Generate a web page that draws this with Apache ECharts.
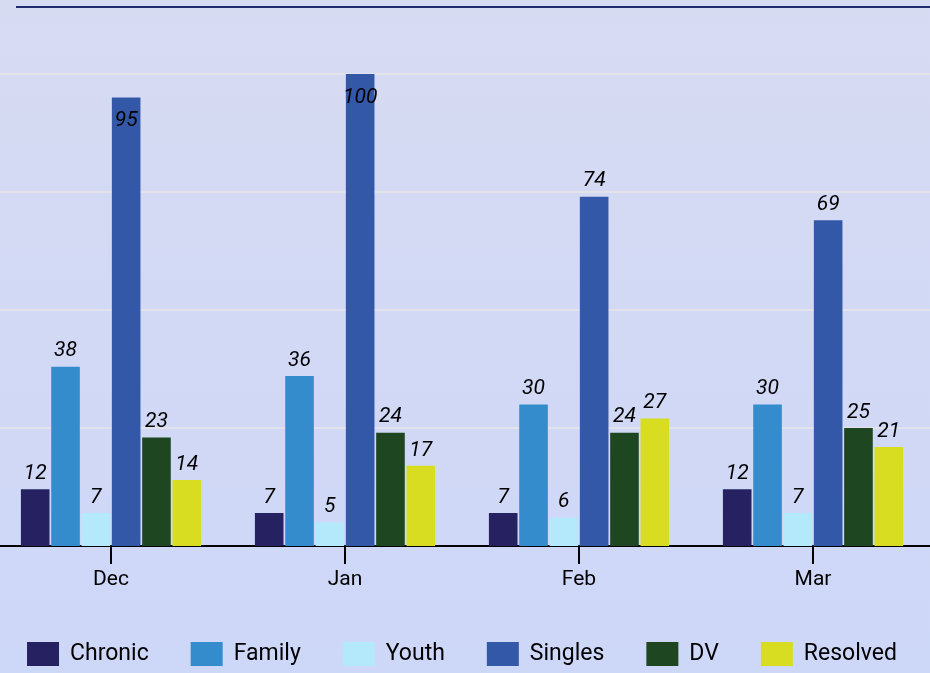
<!DOCTYPE html>
<html>
<head>
<meta charset="utf-8">
<script src="https://cdn.jsdelivr.net/npm/echarts@6/dist/echarts.min.js"></script>
<style>
  html, body { margin: 0; padding: 0; overflow: hidden; }
  /* chart is a bit wider than the window so the first category sits like the original */
  #main { width: 936px; height: 673px; margin-left: -6px; }
</style>
</head>
<body>
<div id="main"></div>
<script>
var months = ['Dec', 'Jan', 'Feb', 'Mar']
var chronic = [12, 7, 7, 12]
var family = [38, 36, 30, 30]
var youth = [7, 5, 6, 7]
var singles = [95, 100, 74, 69]
var dv = [23, 24, 24, 25]
var resolved = [14, 17, 27, 21]

var seriesList = [
  { name: 'Chronic', data: chronic, color: '#262262' },
  { name: 'Family', data: family, color: '#348ccd' },
  { name: 'Youth', data: youth, color: '#b3e9fb' },
  { name: 'Singles', data: singles, color: '#3458a8' },
  { name: 'DV', data: dv, color: '#1e4620' },
  { name: 'Resolved', data: resolved, color: '#d8dd22' }
]

var chart = echarts.init(document.getElementById('main'))

chart.setOption({
  backgroundColor: new echarts.graphic.LinearGradient(0, 0, 0, 1, [
    { offset: 0, color: '#d7dbf2' },
    { offset: 1, color: '#cdd7f8' }
  ]),
  textStyle: { fontFamily: 'Roboto' },
  graphic: [
    {
      type: 'line',
      shape: { x1: 22, y1: 7, x2: 936, y2: 7 },
      style: { stroke: '#1f2a6e', lineWidth: 2 }
    }
  ],
  grid: { left: 0, right: 0, top: 74, bottom: 127 },
  legend: {
    bottom: 2,
    left: 'center',
    itemWidth: 32,
    itemHeight: 24,
    itemGap: 42,
    icon: 'rect',
    textStyle: { fontSize: 23, color: '#000', padding: [0, 0, 0, 6] },
    data: seriesList.map(function (s) { return s.name })
  },
  xAxis: {
    type: 'category',
    data: months,
    axisLine: { lineStyle: { color: '#000', width: 2 } },
    axisTick: { show: true, alignWithLabel: true, length: 18, lineStyle: { color: '#000', width: 2 } },
    axisLabel: { fontSize: 21, color: '#000', margin: 23 }
  },
  yAxis: {
    type: 'value',
    min: 0,
    max: 100,
    interval: 25,
    axisLabel: { show: false },
    axisLine: { show: false },
    axisTick: { show: false },
    splitLine: { lineStyle: { color: '#e2e2ea', width: 2 } }
  },
  series: seriesList.map(function (s) {
    return {
      name: s.name,
      type: 'bar',
      barCategoryGap: '23%',
      barGap: '6%',
      itemStyle: { color: s.color },
      label: {
        show: true,
        position: 'top',
        fontSize: 21,
        fontStyle: 'italic',
        color: '#000'
      },
      data: s.data.map(function (v) {
        // tall bars have their label tucked inside the top
        if (v > 90) {
          return { value: v, label: { position: 'insideTop', distance: 13 } }
        }
        return v
      })
    }
  })
})
</script>
</body>
</html>
